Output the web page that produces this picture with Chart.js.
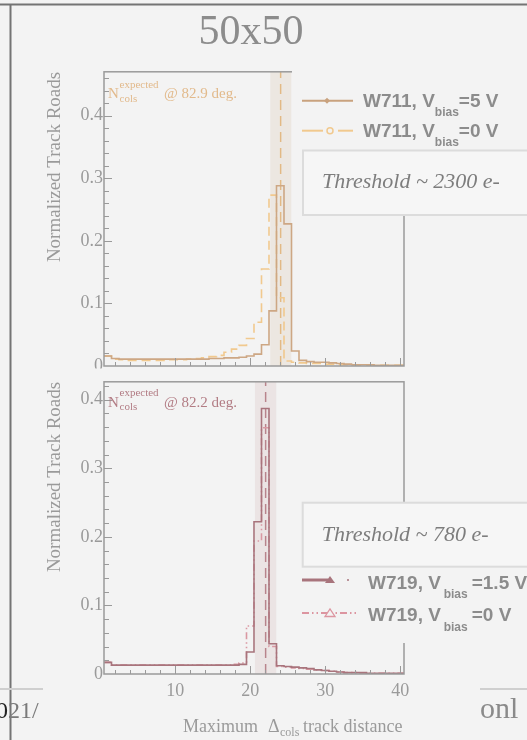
<!DOCTYPE html>
<html>
<head>
<meta charset="utf-8">
<script src="https://cdn.jsdelivr.net/npm/chart.js@4.4.1/dist/chart.umd.min.js"></script>
<style>
  body { margin: 0; width: 527px; height: 740px; overflow: hidden; background: #f3f3f3; position: relative; }
  .plot { position: absolute; }
  #overlay { position: absolute; left: 0; top: 0; pointer-events: none; }
  .serif { font-family: "Liberation Serif", serif; }
  .sans { font-family: "Liberation Sans", Arial, sans-serif; font-weight: bold; }
</style>
</head>
<body>
<div class="plot" style="left:40px;top:60px;width:380px;height:320px"><canvas id="topChart" width="380" height="320"></canvas></div>
<div class="plot" style="left:40px;top:370px;width:380px;height:370px"><canvas id="bottomChart" width="380" height="370"></canvas></div>

<svg id="overlay" width="527" height="740">
  <!-- window frame -->
  <line x1="0" y1="4.5" x2="527" y2="4.5" stroke="#747474" stroke-width="2"/>
  <line x1="10.5" y1="4" x2="10.5" y2="740" stroke="#747474" stroke-width="2"/>
  <text x="251" y="44" text-anchor="middle" class="serif" font-size="42" fill="#8c8c8c">50x50</text>

  <!-- lower pad hides the bottom of the upper "0" label -->
  <rect x="60" y="368.5" width="42" height="7" fill="#f3f3f3"/>

  <!-- top legend -->
  <rect x="292" y="58" width="235" height="156" fill="#f3f3f3"/>
  <line x1="302" y1="100.7" x2="353" y2="100.7" stroke="#c9a27e" stroke-width="2"/>
  <polygon points="327,97.7 330,100.7 327,103.7 324,100.7" fill="#c9a27e"/>
  <text x="363" y="106.7" class="sans" font-size="19" fill="#8c8c8c">W711, V<tspan font-size="12" dy="9">bias</tspan><tspan dy="-9">=5 V</tspan></text>
  <line x1="302" y1="130.7" x2="323" y2="130.7" stroke="#f1c98e" stroke-width="2"/>
  <line x1="338" y1="130.7" x2="353" y2="130.7" stroke="#f1c98e" stroke-width="2"/>
  <circle cx="330" cy="130.7" r="3" fill="none" stroke="#f1c98e" stroke-width="1.5"/>
  <text x="363" y="137.3" class="sans" font-size="19" fill="#8c8c8c">W711, V<tspan font-size="12" dy="9">bias</tspan><tspan dy="-9">=0 V</tspan></text>
  <rect x="303" y="150.5" width="240" height="64.5" fill="#f6f6f6" stroke="#dcdcdc" stroke-width="2"/>
  <text x="322" y="188" class="serif" font-style="italic" font-size="22" fill="#7d7d7d">Threshold ~ 2300 e-</text>

  <!-- bottom legend -->
  <rect x="300" y="567" width="227" height="76" fill="#f3f3f3"/>
  <rect x="302.7" y="502.7" width="240" height="64" fill="#f6f6f6" stroke="#dcdcdc" stroke-width="2"/>
  <text x="321.7" y="540.7" class="serif" font-style="italic" font-size="22" fill="#7d7d7d">Threshold ~ 780 e-</text>
  <line x1="302" y1="580" x2="328" y2="580" stroke="#a8747c" stroke-width="3"/>
  <polygon points="325,583 330,576 335,583" fill="#a8747c"/>
  <circle cx="348" cy="580" r="1" fill="#a8747c"/>
  <text y="589" class="sans" font-size="19" fill="#8c8c8c"><tspan x="368">W719, V</tspan><tspan x="443.7" y="598" font-size="12">bias</tspan><tspan x="471.7" y="589">=1.5 V</tspan></text>
  <line x1="302" y1="613" x2="358" y2="613" stroke="#dc95a0" stroke-width="2" stroke-dasharray="7 3 1.5 3 1.5 3"/>
  <polygon points="325,616.5 330,609 335,616.5" fill="#f3f3f3" stroke="#dc95a0" stroke-width="1.3"/>
  <text y="620.7" class="sans" font-size="19" fill="#8c8c8c"><tspan x="368">W719, V</tspan><tspan x="443.7" y="630.7" font-size="12">bias</tspan><tspan x="471.7" y="620.7">=0 V</tspan></text>

  <!-- expected annotations -->
  <g class="serif" fill="#e2ba8c">
    <text x="108" y="98" font-size="15">N</text>
    <text x="119.5" y="87.5" font-size="11">expected</text>
    <text x="119.5" y="101.5" font-size="11">cols</text>
    <text x="164" y="98" font-size="15">@ 82.9 deg.</text>
  </g>
  <g class="serif" fill="#b27c84">
    <text x="108" y="406.7" font-size="15">N</text>
    <text x="119.5" y="396.2" font-size="11">expected</text>
    <text x="119.5" y="410.2" font-size="11">cols</text>
    <text x="164" y="406.7" font-size="15">@ 82.2 deg.</text>
  </g>

  <!-- x axis title -->
  <g class="serif" fill="#9a9a9a">
    <text x="183" y="732" font-size="18">Maximum</text>
    <text x="268" y="732" font-size="18">Δ</text>
    <text x="280" y="736" font-size="12">cols</text>
    <text x="303" y="732" font-size="18">track distance</text>
  </g>

  <!-- slide behind the window -->
  <line x1="0" y1="689" x2="43" y2="689" stroke="#cfcfcf" stroke-width="2"/>
  <line x1="480" y1="689" x2="527" y2="689" stroke="#cfcfcf" stroke-width="2"/>
  <text x="-4" y="718" class="serif" font-size="24" fill="#7a7a7a"><tspan fill="#222">0</tspan>21/</text>
  <text x="480" y="718" class="serif" font-size="30" fill="#8a8a8a">onl</text>
</svg>

<script>
// bin centres, 1 .. 40
const binCenters = [1,2,3,4,5,6,7,8,9,10,11,12,13,14,15,16,17,18,19,20,
                    21,22,23,24,25,26,27,28,29,30,31,32,33,34,35,36,37,38,39,40];

// W711 (top panel)
const w711_5V = [0.016,0.012,0.011,0.011,0.011,0.011,0.011,0.011,0.011,0.011,
                 0.011,0.011,0.011,0.011,0.012,0.012,0.013,0.013,0.014,0.016,
                 0.019,0.034,0.088,0.288,0.227,0.024,0.009,0.007,0.006,0.006,
                 0.005,0.004,0.003,0.002,0.002,0.002,0.001,0.001,0.001,0.001];
const w711_0V = [0.016,0.011,0.010,0.009,0.009,0.009,0.009,0.009,0.010,0.010,
                 0.010,0.011,0.012,0.013,0.015,0.017,0.022,0.027,0.033,0.044,
                 0.070,0.155,0.273,0.109,0.008,0.006,0.005,0.004,0.004,0.003,
                 0.003,0.002,0.002,0.001,0.001,0.001,0.001,0.001,0.001,0.001];

// W719 (bottom panel)
const w719_15V = [0.017,0.013,0.013,0.013,0.013,0.013,0.013,0.013,0.013,0.013,
                  0.013,0.013,0.013,0.013,0.013,0.013,0.013,0.013,0.014,0.032,
                  0.222,0.387,0.044,0.012,0.011,0.010,0.009,0.008,0.006,0.005,
                  0.004,0.003,0.002,0.002,0.002,0.001,0.001,0.001,0.001,0.001];
const w719_0V = [0.017,0.013,0.013,0.013,0.013,0.013,0.013,0.013,0.013,0.013,
                 0.013,0.013,0.013,0.013,0.013,0.013,0.013,0.014,0.016,0.070,
                 0.194,0.359,0.040,0.011,0.010,0.009,0.008,0.007,0.006,0.005,
                 0.004,0.003,0.002,0.002,0.001,0.001,0.001,0.001,0.001,0.001];

// expected N_cols and its uncertainty band
const expectedTop = 24.05;
const bandTop = [22.65, 25.5];
const expectedBottom = 22.05;
const bandBottom = [20.6, 23.5];

const xTickLabels = [10, 20, 30, 40];
const yTickLabels = [0, 0.1, 0.2, 0.3, 0.4];

Chart.defaults.font.family = '"Liberation Serif", serif';
Chart.defaults.color = '#9a9a9a';

// histogram as steps: each bin's left edge holds its value, plus closing right edge
function toSteps(values) {
  const pts = binCenters.map((c, i) => ({ x: c - 0.5, y: values[i] }));
  pts.push({ x: binCenters[binCenters.length - 1] + 0.5, y: values[values.length - 1] });
  return pts;
}

// ROOT-like frame with inward ticks
const frameTicks = {
  id: 'frameTicks',
  afterDatasetsDraw(chart) {
    const { ctx, chartArea: a, scales: { x, y } } = chart;
    ctx.save();
    ctx.strokeStyle = '#9a9a9a';
    ctx.lineWidth = 1;
    ctx.beginPath();
    for (let v = 2; v <= x.max; v += 2) {
      const px = Math.round(x.getPixelForValue(v)) + 0.5;
      const len = v % 10 === 0 ? 8 : 4;
      ctx.moveTo(px, a.bottom);
      ctx.lineTo(px, a.bottom - len);
    }
    for (let k = 1; k * 0.02 < y.max; k++) {
      const py = Math.round(y.getPixelForValue(k * 0.02)) + 0.5;
      const len = k % 5 === 0 ? 8 : 5;
      ctx.moveTo(a.left, py);
      ctx.lineTo(a.left + len, py);
    }
    ctx.stroke();
    ctx.lineWidth = 1.5;
    ctx.strokeRect(a.left, a.top, a.right - a.left, a.bottom - a.top);
    ctx.restore();
  }
};

function makeChart(id, cfg) {
  const datasets = [
    { data: toSteps(cfg.solid), borderColor: cfg.solidColor, borderWidth: 1.6, stepped: true, order: 0 },
    { data: toSteps(cfg.dashed), borderColor: cfg.dashedColor, borderWidth: 1.6, borderDash: cfg.dash, stepped: true, order: 1 },
    { data: [{ x: cfg.expected, y: 0 }, { x: cfg.expected, y: cfg.yMax }], borderColor: cfg.lineColor,
      borderWidth: 1.5, borderDash: [10, 6], order: 2 },
    { data: [{ x: cfg.band[0], y: cfg.yMax }, { x: cfg.band[1], y: cfg.yMax }], borderWidth: 0,
      backgroundColor: cfg.bandColor, fill: 'origin', order: 3 }
  ];
  datasets.forEach(d => { d.pointRadius = 0; d.tension = 0; if (d.fill === undefined) d.fill = false; });

  return new Chart(document.getElementById(id), {
    type: 'line',
    data: { datasets },
    options: {
      responsive: false,
      animation: false,
      events: [],
      layout: { padding: cfg.padding },
      plugins: { legend: { display: false }, tooltip: { enabled: false } },
      scales: {
        x: {
          type: 'linear', min: 0.5, max: 40.5,
          grid: { display: false, drawTicks: false },
          border: { display: false },
          ticks: { display: cfg.showX, padding: 6, font: { size: 18 }, color: '#9a9a9a', callback: v => String(v) },
          afterBuildTicks: s => { s.ticks = xTickLabels.map(v => ({ value: v })); },
          afterFit: s => { s.height = cfg.xHeight; }
        },
        y: {
          min: 0, max: cfg.yMax,
          grid: { display: false, drawTicks: false },
          border: { display: false },
          ticks: { padding: 1, font: { size: 18 }, color: '#9a9a9a', callback: v => v === 0 ? '0' : v.toFixed(1) },
          afterBuildTicks: s => { s.ticks = yTickLabels.map(v => ({ value: v })); },
          afterFit: s => { s.width = 60; },
          title: { display: true, text: 'Normalized Track Roads', align: 'end', padding: 0,
                   font: { size: 19 }, color: '#9a9a9a' }
        }
      }
    },
    plugins: [frameTicks]
  });
}

makeChart('topChart', {
  solid: w711_5V, dashed: w711_0V,
  solidColor: '#cda784', dashedColor: '#f1c98e', dash: [9, 5],
  expected: expectedTop, band: bandTop, lineColor: '#e2b985',
  bandColor: 'rgba(200,160,120,0.14)',
  yMax: 0.47, showX: false, xHeight: 0,
  padding: { left: 4, right: 16, top: 8, bottom: 14 }
});

makeChart('bottomChart', {
  solid: w719_15V, dashed: w719_0V,
  solidColor: '#a8747c', dashedColor: '#da98a2', dash: [7, 3, 1.5, 3, 1.5, 3],
  expected: expectedBottom, band: bandBottom, lineColor: '#b8848c',
  bandColor: 'rgba(190,140,140,0.14)',
  yMax: 0.426, showX: true, xHeight: 40,
  padding: { left: 4, right: 16, top: 6, bottom: 26 }
});
</script>
</body>
</html>
